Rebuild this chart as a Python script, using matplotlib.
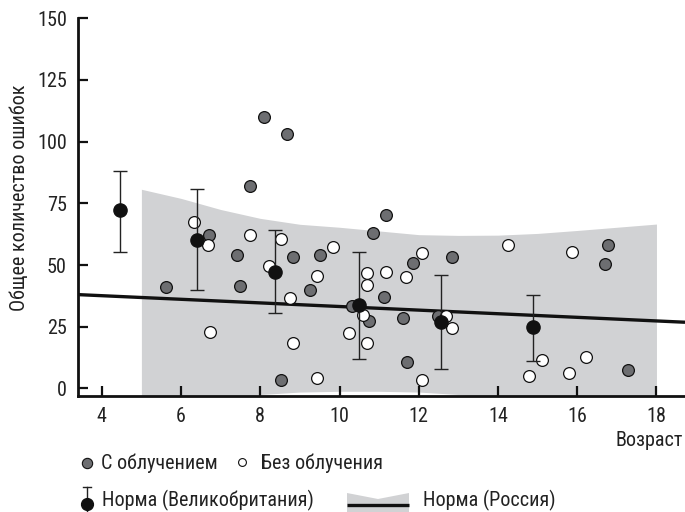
import numpy as np
import matplotlib
matplotlib.use("Agg")
import matplotlib.pyplot as plt
from matplotlib.patches import Polygon

plt.rcParams['font.family'] = ['Roboto Condensed', 'Liberation Sans', 'DejaVu Sans']
FS = 14.5

# --- data ---
irr_age = [5.63, 6.71, 7.41, 7.49, 7.74, 8.09, 8.68, 8.83, 8.52, 9.51, 9.25, 10.31,
           10.75, 10.85, 11.17, 11.12, 11.86, 11.60, 11.70, 12.84, 12.48, 16.77, 16.69, 17.29]
irr_err = [41.0, 62.1, 54.1, 41.4, 81.9, 110.1, 103.0, 53.1, 3.5, 54.0, 39.7, 33.4,
           27.1, 62.9, 70.1, 37.1, 50.8, 28.4, 10.6, 53.1, 29.2, 58.2, 50.4, 7.3]

noirr_age = [6.32, 6.69, 6.73, 7.74, 8.52, 8.23, 8.74, 8.83, 9.42, 9.43, 9.84, 10.25,
             10.59, 10.69, 10.69, 10.69, 11.17, 11.68, 12.09, 12.09, 12.70, 12.84,
             14.25, 14.79, 15.12, 15.78, 15.86, 16.21]
noirr_err = [67.3, 58.3, 23.0, 62.1, 60.5, 49.5, 36.6, 18.3, 45.4, 4.1, 57.4, 22.6,
             29.8, 46.7, 41.7, 18.3, 47.2, 45.1, 54.7, 3.4, 29.5, 24.4,
             58.2, 5.1, 11.6, 6.1, 55.1, 12.7]

uk_age = [4.46, 6.40, 8.38, 10.49, 12.55, 14.88]
uk_mean = [72.1, 60.2, 47.2, 33.8, 26.7, 24.7]
uk_low = [55.1, 39.8, 30.4, 11.9, 7.9, 11.0]
uk_high = [88.3, 80.8, 64.0, 55.1, 45.9, 37.9]

ru_line_x = [3.4, 18.72]
ru_line_y = [38.0, 26.8]

band_x = [5.0, 6.0, 7.0, 8.0, 9.0, 10.0, 11.0, 12.0, 13.0, 14.0, 15.0, 16.0, 17.0, 18.0]
band_hi = [80.7, 77.0, 72.5, 68.9, 66.5, 65.3, 63.8, 62.3, 62.0, 62.1, 62.8, 64.0, 65.3, 66.6]
band_lo = [-6.0, -6.0, -5.0, -2.5, -1.5, -1.2, -1.2, -1.5, -2.5, -4.0, -5.0, -5.5, -6.0, -6.0]

fig = plt.figure(figsize=(6.85, 5.12), dpi=100)
ax = fig.add_axes([78 / 685, 116 / 512, 607 / 685, 377.7 / 512])

ax.fill_between(band_x, band_lo, band_hi, color='#d1d2d4', lw=0, zorder=1)
ax.plot(ru_line_x, ru_line_y, color='#111111', lw=2.4, zorder=2, solid_capstyle='butt')

ax.scatter(irr_age, irr_err, s=72, c='#6d6e71', edgecolors='#111111', linewidths=0.9, zorder=3)
ax.scatter(noirr_age, noirr_err, s=72, c='white', edgecolors='#111111', linewidths=0.9, zorder=3)

uk_mean_a = np.array(uk_mean)
yerr = [uk_mean_a - np.array(uk_low), np.array(uk_high) - uk_mean_a]
ax.errorbar(uk_age, uk_mean, yerr=yerr, fmt='o', color='#111111', ms=9.5,
            ecolor='#222222', elinewidth=1.0, capsize=5, capthick=1.0, zorder=4)

ax.set_xlim(3.4, 18.72)
ax.set_ylim(-3.1, 150)
ax.set_xticks([4, 6, 8, 10, 12, 14, 16, 18])
ax.set_yticks([0, 25, 50, 75, 100, 125, 150])
for s in ['top', 'right']:
    ax.spines[s].set_visible(False)
for s in ['left', 'bottom']:
    ax.spines[s].set_linewidth(2.0)
    ax.spines[s].set_color('#111111')
ax.tick_params(axis='both', direction='in', length=7, width=1.6, colors='#111111',
               labelsize=FS, labelcolor='#222222')
ax.tick_params(axis='y', pad=8)
ax.tick_params(axis='x', pad=8)

fig.text(20 / 685, 1 - 198 / 512, 'Общее количество ошибок', rotation=90,
         ha='center', va='center', fontsize=FS, color='#222222')
fig.text(683 / 685, 1 - 441 / 512, 'Возраст', ha='right', va='center',
         fontsize=FS, color='#222222')

# --- hand-drawn legend in pixel coordinates ---
lg = fig.add_axes([0, 0, 1, 1], facecolor='none')
lg.set_xlim(0, 685)
lg.set_ylim(512, 0)
lg.axis('off')
lg.scatter([87], [463], s=55, c='#6d6e71', edgecolors='#111111', linewidths=0.8, clip_on=False)
lg.text(101, 463, 'С облучением', va='center', fontsize=FS, color='#222222')
lg.scatter([242], [462], s=32, c='white', edgecolors='#111111', linewidths=0.8, clip_on=False)
lg.text(261, 463, 'Без облучения', va='center', fontsize=FS, color='#222222')

lg.plot([87, 87], [487, 512], color='#222222', lw=1.0, clip_on=False)
lg.plot([83, 91], [487, 487], color='#222222', lw=1.0, clip_on=False)
lg.plot([87], [504], 'o', color='#111111', ms=8.5, clip_on=False)
lg.text(102, 500, 'Норма (Великобритания)', va='center', fontsize=FS, color='#222222')

lg.add_patch(Polygon([[347, 493], [378, 499], [409, 493], [409, 520], [378, 514], [347, 520]],
                     closed=True, facecolor='#d1d2d4', edgecolor='none', clip_on=False))
lg.plot([347, 409], [505, 505], color='#111111', lw=2.4, clip_on=False, solid_capstyle='butt')
lg.text(423, 500, 'Норма (Россия)', va='center', fontsize=FS, color='#222222')

fig.savefig('out.png', dpi=100)
